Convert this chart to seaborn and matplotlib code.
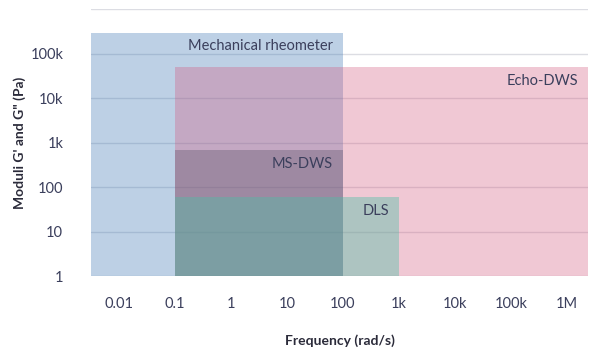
import numpy as np
import matplotlib
matplotlib.use("Agg")
import matplotlib.pyplot as plt
import seaborn as sns

# Measurement ranges of each technique (frequency in rad/s, moduli in Pa)
techniques = ["Mechanical rheometer", "Echo-DWS", "MS-DWS", "DLS"]
freq_min = [0.00316, 0.1, 0.1, 0.1]
freq_max = [100, 2.4e6, 100, 1000]
mod_min = [1, 1, 1, 1]
mod_max = [3e5, 5e4, 700, 60]

x_ticks = [0.01, 0.1, 1, 10, 100, 1e3, 1e4, 1e5, 1e6]
x_tick_labels = ["0.01", "0.1", "1", "10", "100", "1k", "10k", "100k", "1M"]
y_ticks = [1, 10, 100, 1e3, 1e4, 1e5, 1e6]
y_tick_labels = ["1", "10", "100", "1k", "10k", "100k", ""]

colors = ["#3773B3", "#D3567C", "#595166", "#49BFA5"]
alphas = [0.33, 0.32, 0.35, 0.40]

sns.set_theme(style="white")
plt.rcParams["font.family"] = ["Lato", "DejaVu Sans"]
text_color = "#3b3f5c"

fig = plt.figure(figsize=(5.99, 3.56), dpi=100)
ax = fig.add_axes([0.1519, 0.2239, 0.8297, 0.75])

ax.set_xscale("log")
ax.set_yscale("log")

for name, x0, x1, y0, y1, c, a in zip(techniques, freq_min, freq_max,
                                     mod_min, mod_max, colors, alphas):
    ax.bar(x0, y1 - y0, width=x1 - x0, bottom=y0, align="edge",
           color=c, alpha=a, linewidth=0, zorder=2)
    ax.annotate(name, xy=(x1, y1), xytext=(-7, -10), textcoords="offset points",
                ha="right", va="center", fontsize=10.5, color=text_color, zorder=5)

ax.set_xlim(0.00316, 2.4e6)
ax.set_ylim(1, 1e6)

ax.set_xticks(x_ticks)
ax.set_xticklabels(x_tick_labels)
ax.set_yticks(y_ticks)
ax.set_yticklabels(y_tick_labels)
ax.minorticks_off()
ax.tick_params(axis="x", length=0, pad=15, labelsize=10.5, labelcolor=text_color)
ax.tick_params(axis="y", length=0, pad=20, labelsize=10.5, labelcolor=text_color)

ax.set_axisbelow(True)
ax.yaxis.grid(True, color="#dcdde3", linewidth=1)
ax.xaxis.grid(False)
sns.despine(ax=ax, left=True, bottom=True)

ax.set_xlabel("Frequency (rad/s)", fontsize=10, fontweight="bold", color="#2b2b3a", labelpad=17)
ax.set_ylabel("Moduli G' and G\" (Pa)", fontsize=10, fontweight="bold", color="#2b2b3a", labelpad=3)

fig.savefig("out.png", dpi=100)
